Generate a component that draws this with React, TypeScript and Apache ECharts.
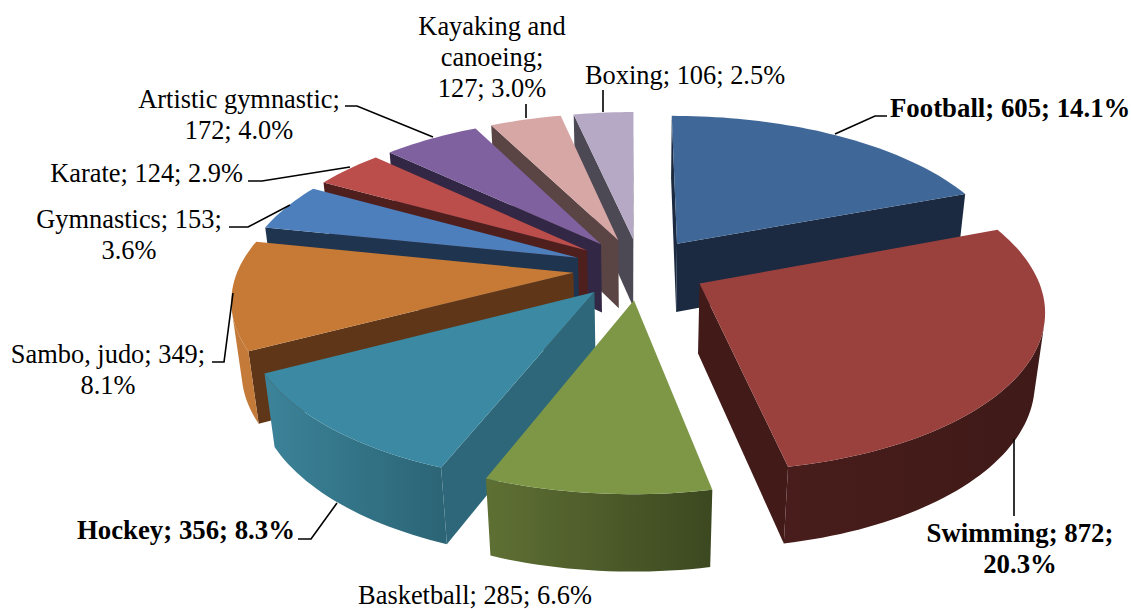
import React, { useEffect, useRef } from "react";
import * as echarts from "echarts";

const names = ["Football", "Swimming", "Basketball", "Hockey", "Sambo, judo", "Gymnastics", "Karate", "Artistic gymnastic", "Kayaking and canoeing", "Boxing"];
const values = [605, 872, 285, 356, 349, 153, 124, 172, 127, 106];
const percents = ["14.1", "20.3", "6.6", "8.3", "8.1", "3.6", "2.9", "4.0", "3.0", "2.5"];

const topColors = ["#3f6797", "#9a413e", "#7d9747", "#3b89a2", "#c67a36", "#4c7fbc", "#bb4d4a", "#7f61a0", "#d7a7a6", "#b5a9c6"];
const sideColors = ["#1b2a40", "#421b19", "#3e4a20", "#2d6779", "#5f3718", "#1e344f", "#4f1f1e", "#322744", "#5a4544", "#4c4854"];
const arcLight = ["#1b2a40", "#481d1b", "#5f7034", "#3c8399", "#c47a38", "#1e344f", "#4f1f1e", "#322744", "#5a4544", "#4c4854"];
const arcDark = ["#1b2a40", "#3f1a18", "#3c4820", "#2b6475", "#c47a38", "#1e344f", "#4f1f1e", "#322744", "#5a4544", "#4c4854"];

// Projection of the tilted, exploded pie
const CX = 640, CY = 268.5, R = 335, TILT = 0.46, PERSP = 0.151, DEPTH = 71, CONVERGE = 0.025, EXPLODE = 67, START = -0.1;

const total = values.reduce((a, b) => a + b, 0);
let acc = 0;
const slices = values.map((v, i) => {
  const a0 = START + (acc / total) * 360;
  acc += v;
  const a1 = START + (acc / total) * 360;
  return [v, a0, a1, i];
});
const rad = (d: number) => (d * Math.PI) / 180;
const order = slices.slice().sort((p, q) => -Math.cos(rad((p[1] + p[2]) / 2)) - -Math.cos(rad((q[1] + q[2]) / 2)));

function project(X: number, Y: number, z: number): number[] {
  const s = 1 / (1 - (PERSP * Y) / R + CONVERGE * z);
  return [CX + X * s, CY + (TILT * Y + DEPTH * z) * s];
}
function area(p: number[][]) {
  let a = 0;
  p.forEach((q, i) => {
    const n = p[(i + 1) % p.length];
    a += q[0] * n[1] - n[0] * q[1];
  });
  return a;
}

function renderItem(_params: any, api: any) {
  const a0 = api.value(1), a1 = api.value(2), idx = api.value(3);
  const mid = rad((a0 + a1) / 2);
  const ox = EXPLODE * Math.sin(mid), oy = -EXPLODE * Math.cos(mid);
  const rim = (a: number, z: number) => project(ox + R * Math.sin(rad(a)), oy - R * Math.cos(rad(a)), z);
  const hub = (z: number) => project(ox, oy, z);
  const steps = Math.max(8, Math.ceil((a1 - a0) / 1.5));
  const angle = (k: number) => a0 + ((a1 - a0) * k) / steps;
  const topRim: number[][] = [];
  for (let k = 0; k <= steps; k++) topRim.push(rim(angle(k), 0));

  const children: any[] = [];
  const wall = (pts: number[][], fill: any) =>
    children.push({ type: "polygon", shape: { points: pts }, style: { fill, stroke: null } });

  const startQuad = [hub(0), rim(a0, 0), rim(a0, 1), hub(1)];
  const endQuad = [rim(a1, 0), hub(0), hub(1), rim(a1, 1)];
  if (area(startQuad) < 0) wall(startQuad, sideColors[idx]);
  if (area(endQuad) < 0) wall(endQuad, sideColors[idx]);

  const visible: number[] = [];
  for (let k = 0; k < steps; k++) {
    const q = [rim(angle(k), 0), rim(angle(k + 1), 0), rim(angle(k + 1), 1), rim(angle(k), 1)];
    if (area(q) < 0) visible.push(k);
  }
  if (visible.length) {
    const first = visible[0], last = visible[visible.length - 1] + 1;
    const upper: number[][] = [], lower: number[][] = [];
    for (let k = first; k <= last; k++) {
      upper.push(rim(angle(k), 0));
      lower.unshift(rim(angle(k), 1));
    }
    wall(upper.concat(lower), new echarts.graphic.LinearGradient(0, 0, 1, 0, [
      { offset: 0, color: arcLight[idx] },
      { offset: 1, color: arcDark[idx] },
    ]));
  }
  children.push({ type: "polygon", shape: { points: [hub(0), ...topRim] }, style: { fill: topColors[idx], stroke: null } });
  return { type: "group", children };
}

const label = (i: number) => `${names[i]}; ${values[i]}; ${percents[i]}%`;
const FONT = '"Liberation Serif", "Times New Roman", serif';
const text = (t: string, x: number, y: number, align: string, bold = false) => ({
  type: "text",
  x,
  y,
  z: 10,
  style: { text: t, x: 0, y: 0, fill: "#000", font: `${bold ? "bold 26.8px" : "26.4px"} ${FONT}`, lineHeight: 31, textAlign: align, textVerticalAlign: "middle" },
});
const leader = (points: number[][]) => ({
  type: "polyline",
  shape: { points },
  style: { stroke: "#000", lineWidth: 1.6, fill: null },
  z: 5,
});

const labels = [
  text(label(0), 890, 108, "left", true),
  text("Swimming; 872;\n20.3%", 1020, 548, "center", true),
  text(label(2), 475, 595, "center"),
  text(label(3), 295, 530, "right", true),
  text("Sambo, judo; 349;\n8.1%", 108, 369, "center"),
  text("Gymnastics; 153;\n3.6%", 129, 234, "center"),
  text(label(6), 243, 173, "right"),
  text("Artistic gymnastic;\n172; 4.0%", 239, 114, "center"),
  text("Kayaking and\ncanoeing;\n127; 3.0%", 492, 57, "center"),
  text(label(9), 585, 75, "left"),
];
const leaders = [
  leader([[835, 134], [875, 116], [887, 116]]),
  leader([[1014, 439], [1014, 516]]),
  leader([[337, 503], [311, 539], [298, 539]]),
  leader([[233, 293], [224, 362], [212, 362]]),
  leader([[290, 205], [248, 227], [229, 227]]),
  leader([[350, 167], [262, 181], [248, 181]]),
  leader([[433, 137], [357, 106], [345, 106]]),
  leader([[526, 104], [526, 118]]),
  leader([[603, 90], [603, 112]]),
];

export default function App() {
  const ref = useRef<HTMLDivElement>(null);
  useEffect(() => {
    document.body.style.margin = "0";
    const chart = echarts.init(ref.current!, undefined, { renderer: "svg" });
    chart.setOption({
      animation: false,
      backgroundColor: "#fff",
      graphic: { elements: [...leaders, ...labels] },
      series: [{ type: "custom", coordinateSystem: "none", renderItem, data: order, silent: true, z: 1 }],
    });
    return () => chart.dispose();
  }, []);
  return <div ref={ref} style={{ width: 1131, height: 609 }} />;
}
